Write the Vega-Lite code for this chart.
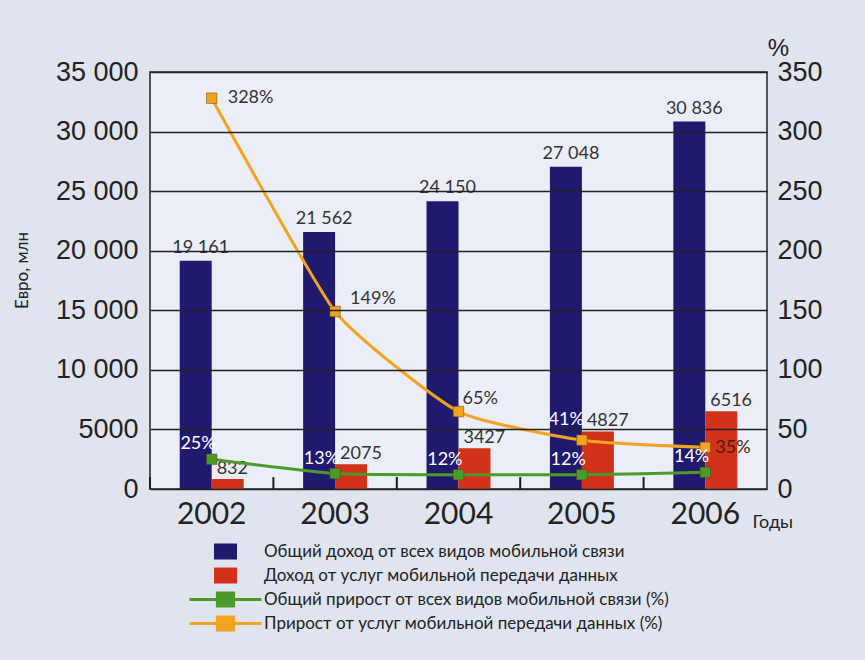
{
  "$schema": "https://vega.github.io/schema/vega-lite/v6.json",
  "width": 617,
  "height": 417,
  "autosize": {"type": "none"},
  "padding": {"left": 150, "top": 72, "right": 98, "bottom": 171},
  "background": "#dfe4ef",
  "datasets": {
    "bars": [
      {"year": "2002", "series": "Общий доход от всех видов мобильной связи", "value": 19161},
      {"year": "2002", "series": "Доход от услуг мобильной передачи данных", "value": 832},
      {"year": "2003", "series": "Общий доход от всех видов мобильной связи", "value": 21562},
      {"year": "2003", "series": "Доход от услуг мобильной передачи данных", "value": 2075},
      {"year": "2004", "series": "Общий доход от всех видов мобильной связи", "value": 24150},
      {"year": "2004", "series": "Доход от услуг мобильной передачи данных", "value": 3427},
      {"year": "2005", "series": "Общий доход от всех видов мобильной связи", "value": 27048},
      {"year": "2005", "series": "Доход от услуг мобильной передачи данных", "value": 4827},
      {"year": "2006", "series": "Общий доход от всех видов мобильной связи", "value": 30836},
      {"year": "2006", "series": "Доход от услуг мобильной передачи данных", "value": 6516}
    ],
    "lines": [
      {"year": "2002", "series": "Общий прирост от всех видов мобильной связи (%)", "pct": 25},
      {"year": "2003", "series": "Общий прирост от всех видов мобильной связи (%)", "pct": 13},
      {"year": "2004", "series": "Общий прирост от всех видов мобильной связи (%)", "pct": 12},
      {"year": "2005", "series": "Общий прирост от всех видов мобильной связи (%)", "pct": 12},
      {"year": "2006", "series": "Общий прирост от всех видов мобильной связи (%)", "pct": 14},
      {"year": "2002", "series": "Прирост от услуг мобильной передачи данных (%)", "pct": 328},
      {"year": "2003", "series": "Прирост от услуг мобильной передачи данных (%)", "pct": 149},
      {"year": "2004", "series": "Прирост от услуг мобильной передачи данных (%)", "pct": 65},
      {"year": "2005", "series": "Прирост от услуг мобильной передачи данных (%)", "pct": 41},
      {"year": "2006", "series": "Прирост от услуг мобильной передачи данных (%)", "pct": 35}
    ]
  },
  "encoding": {
    "x": {
      "field": "year",
      "type": "ordinal",
      "scale": {"paddingInner": 0, "paddingOuter": 0},
      "axis": {
        "zindex": 1,
        "title": "Годы",
        "titleX": 602,
        "titleY": 38,
        "titleAlign": "left",
        "titleBaseline": "alphabetic",
        "titleFont": "Lato",
        "titleFontSize": 18,
        "titleFontWeight": "normal",
        "titleColor": "#222",
        "labelFont": "Lato",
        "labelFontSize": 30,
        "labelColor": "#222",
        "labelAngle": 0,
        "labelBaseline": "alphabetic",
        "labelPadding": 34,
        "ticks": false,
        "domain": false,
        "grid": false
      }
    }
  },
  "layer": [
    {
      "data": {"name": "bars"},
      "encoding": {
        "y": {
          "field": "value",
          "type": "quantitative",
          "scale": {"domain": [0, 35000]},
          "axis": {
            "orient": "left",
            "zindex": 1,
            "title": "Евро, млн",
            "titleX": -128,
            "titleY": 198,
            "titleAngle": -90,
            "titleAlign": "center",
            "titleBaseline": "middle",
            "titleFont": "Lato",
            "titleFontSize": 17,
            "titleFontWeight": "normal",
            "titleColor": "#222",
            "values": [0, 5000, 10000, 15000, 20000, 25000, 30000, 35000],
            "labelExpr": "datum.value >= 10000 ? replace(format(datum.value, ','), ',', ' ') : format(datum.value, 'd')",
            "labelFont": "Liberation Sans",
            "labelFontSize": 27,
            "labelColor": "#222",
            "labelPadding": 12,
            "ticks": false,
            "domain": false,
            "grid": true,
            "gridColor": "#222",
            "gridWidth": 1.5,
            "gridOpacity": 1
          }
        }
      },
      "layer": [
        {
          "mark": {"type": "bar"},
          "encoding": {
            "xOffset": {
              "field": "series",
              "type": "nominal",
              "scale": {
                "domain": ["Общий доход от всех видов мобильной связи", "Доход от услуг мобильной передачи данных"],
                "paddingInner": 0,
                "paddingOuter": 0.93
              }
            },
            "color": {
              "field": "series",
              "type": "nominal",
              "title": null,
              "scale": {
                "domain": ["Общий доход от всех видов мобильной связи", "Доход от услуг мобильной передачи данных", "Общий прирост от всех видов мобильной связи (%)", "Прирост от услуг мобильной передачи данных (%)"],
                "range": ["#1f1a6e", "#d2321a", "#4c9a2a", "#f2a31f"]
              },
              "legend": {"orient": "none", "legendX": 67, "legendY": 471, "title": null}
            }
          }
        },
        {
          "transform": [
            {"filter": {"field": "series", "equal": "Общий доход от всех видов мобильной связи"}}
          ],
          "mark": {"type": "rule", "strokeWidth": 2, "color": "#1a1a1a", "opacity": 1},
          "encoding": {
            "x": {"field": "year", "type": "ordinal", "bandPosition": 0},
            "y": {"datum": 0},
            "y2": {"datum": 1000}
          }
        },
        {
          "transform": [
            {"filter": {"field": "series", "equal": "Общий доход от всех видов мобильной связи"}},
            {"calculate": "datum.value >= 10000 ? replace(format(datum.value, ','), ',', ' ') : format(datum.value, 'd')", "as": "lbl"}
          ],
          "mark": {"type": "text", "font": "Lato", "fontSize": 18, "color": "#333", "baseline": "alphabetic", "dy": -8, "dx": 5},
          "encoding": {
            "xOffset": {
              "field": "series",
              "type": "nominal",
              "scale": {
                "domain": ["Общий доход от всех видов мобильной связи", "Доход от услуг мобильной передачи данных"],
                "paddingInner": 0,
                "paddingOuter": 0.93
              }
            },
            "text": {"field": "lbl", "type": "nominal"}
          }
        },
        {
          "transform": [
            {"filter": {"field": "series", "equal": "Доход от услуг мобильной передачи данных"}},
            {"calculate": "format(datum.value, 'd')", "as": "lbl"}
          ],
          "mark": {"type": "text", "font": "Lato", "fontSize": 18, "color": "#333", "baseline": "alphabetic", "align": "left", "dy": -5, "dx": -11},
          "encoding": {
            "xOffset": {
              "field": "series",
              "type": "nominal",
              "scale": {
                "domain": ["Общий доход от всех видов мобильной связи", "Доход от услуг мобильной передачи данных"],
                "paddingInner": 0,
                "paddingOuter": 0.93
              }
            },
            "text": {"field": "lbl", "type": "nominal"}
          }
        }
      ]
    },
    {
      "data": {"name": "lines"},
      "transform": [{"calculate": "datum.pct + '%'", "as": "plbl"}],
      "encoding": {
        "y": {
          "field": "pct",
          "type": "quantitative",
          "scale": {"domain": [0, 350]},
          "axis": {
            "orient": "right",
            "title": "%",
            "titleAngle": 0,
            "titleX": 11,
            "titleY": -17,
            "titleAlign": "center",
            "titleBaseline": "alphabetic",
            "titleFont": "Liberation Sans",
            "titleFontSize": 24,
            "titleFontWeight": "normal",
            "titleColor": "#222",
            "values": [0, 50, 100, 150, 200, 250, 300, 350],
            "labelFont": "Liberation Sans",
            "labelFontSize": 27,
            "labelColor": "#222",
            "labelPadding": 10,
            "ticks": false,
            "domain": false,
            "grid": false
          }
        }
      },
      "layer": [
        {
          "mark": {"type": "line", "interpolate": "cardinal", "tension": 0.5, "strokeWidth": 3},
          "encoding": {
            "color": {
              "field": "series",
              "type": "nominal",
              "title": null,
              "scale": {
                "domain": ["Общий доход от всех видов мобильной связи", "Доход от услуг мобильной передачи данных", "Общий прирост от всех видов мобильной связи (%)", "Прирост от услуг мобильной передачи данных (%)"],
                "range": ["#1f1a6e", "#d2321a", "#4c9a2a", "#f2a31f"]
              },
              "legend": {"orient": "none", "legendX": 67, "legendY": 471, "title": null}
            }
          }
        },
        {
          "mark": {"type": "point", "shape": "square", "filled": true, "size": 110, "opacity": 1, "stroke": "#5a3a10", "strokeWidth": 0.8, "strokeOpacity": 0.6},
          "encoding": {
            "color": {
              "field": "series",
              "type": "nominal",
              "title": null,
              "scale": {
                "domain": ["Общий доход от всех видов мобильной связи", "Доход от услуг мобильной передачи данных", "Общий прирост от всех видов мобильной связи (%)", "Прирост от услуг мобильной передачи данных (%)"],
                "range": ["#1f1a6e", "#d2321a", "#4c9a2a", "#f2a31f"]
              },
              "legend": {"orient": "none", "legendX": 67, "legendY": 471, "title": null}
            }
          }
        },
        {
          "mark": {"type": "point", "filled": true, "opacity": 0, "size": 256},
          "encoding": {
            "color": {
              "field": "series",
              "type": "nominal",
              "title": null,
              "scale": {
                "domain": ["Общий доход от всех видов мобильной связи", "Доход от услуг мобильной передачи данных", "Общий прирост от всех видов мобильной связи (%)", "Прирост от услуг мобильной передачи данных (%)"],
                "range": ["#1f1a6e", "#d2321a", "#4c9a2a", "#f2a31f"]
              },
              "legend": {"orient": "none", "legendX": 67, "legendY": 471, "title": null}
            },
            "shape": {
              "field": "series",
              "type": "nominal",
              "title": null,
              "scale": {
                "domain": ["Общий доход от всех видов мобильной связи", "Доход от услуг мобильной передачи данных", "Общий прирост от всех видов мобильной связи (%)", "Прирост от услуг мобильной передачи данных (%)"],
                "range": ["M-1.44,-1H1.44V1H-1.44Z", "M-1.44,-1H1.44V1H-1.44Z", "M-4.5,-0.19H-1.2V-1H1.2V-0.19H4.5V0.19H1.2V1H-1.2V0.19H-4.5Z", "M-4.5,-0.19H-1.2V-1H1.2V-0.19H4.5V0.19H1.2V1H-1.2V0.19H-4.5Z"]
              },
              "legend": {"orient": "none", "legendX": 67, "legendY": 471, "title": null}
            }
          }
        },
        {
          "transform": [{"filter": {"field": "series", "equal": "Общий прирост от всех видов мобильной связи (%)"}}],
          "mark": {"type": "text", "font": "Lato", "fontSize": 18, "color": "#ffffff", "align": "right", "baseline": "middle", "dx": 4, "dy": -15},
          "encoding": {"text": {"field": "plbl", "type": "nominal"}}
        },
        {
          "transform": [{"filter": {"field": "series", "equal": "Прирост от услуг мобильной передачи данных (%)"}}, {"filter": {"field": "year", "equal": "2002"}}],
          "mark": {"type": "text", "font": "Lato", "fontSize": 18, "color": "#333", "align": "left", "baseline": "middle", "dx": 16, "dy": 0},
          "encoding": {"text": {"field": "plbl", "type": "nominal"}}
        },
        {
          "transform": [{"filter": {"field": "series", "equal": "Прирост от услуг мобильной передачи данных (%)"}}, {"filter": {"field": "year", "equal": "2003"}}],
          "mark": {"type": "text", "font": "Lato", "fontSize": 18, "color": "#333", "align": "left", "baseline": "middle", "dx": 15, "dy": -12},
          "encoding": {"text": {"field": "plbl", "type": "nominal"}}
        },
        {
          "transform": [{"filter": {"field": "series", "equal": "Прирост от услуг мобильной передачи данных (%)"}}, {"filter": {"field": "year", "equal": "2004"}}],
          "mark": {"type": "text", "font": "Lato", "fontSize": 18, "color": "#333", "align": "left", "baseline": "middle", "dx": 4, "dy": -13},
          "encoding": {"text": {"field": "plbl", "type": "nominal"}}
        },
        {
          "transform": [{"filter": {"field": "series", "equal": "Прирост от услуг мобильной передачи данных (%)"}}, {"filter": {"field": "year", "equal": "2005"}}],
          "mark": {"type": "text", "font": "Lato", "fontSize": 18, "color": "#ffffff", "align": "right", "baseline": "middle", "dx": 2, "dy": -20},
          "encoding": {"text": {"field": "plbl", "type": "nominal"}}
        },
        {
          "transform": [{"filter": {"field": "series", "equal": "Прирост от услуг мобильной передачи данных (%)"}}, {"filter": {"field": "year", "equal": "2006"}}],
          "mark": {"type": "text", "font": "Lato", "fontSize": 18, "color": "#4a1a10", "align": "left", "baseline": "middle", "dx": 10, "dy": 1},
          "encoding": {"text": {"field": "plbl", "type": "nominal"}}
        }
      ]
    }
  ],
  "resolve": {"scale": {"y": "independent"}},
  "config": {
    "view": {"fill": "#ebeef6", "stroke": "#222", "strokeWidth": 1.5},
    "legend": {
      "padding": 0,
      "symbolSize": 256,
      "symbolStrokeWidth": 0,
      "symbolOpacity": 1,
      "labelFont": "Lato",
      "labelFontSize": 17,
      "labelColor": "#222",
      "labelOffset": 30,
      "labelLimit": 0,
      "rowPadding": 6
    }
  }
}
